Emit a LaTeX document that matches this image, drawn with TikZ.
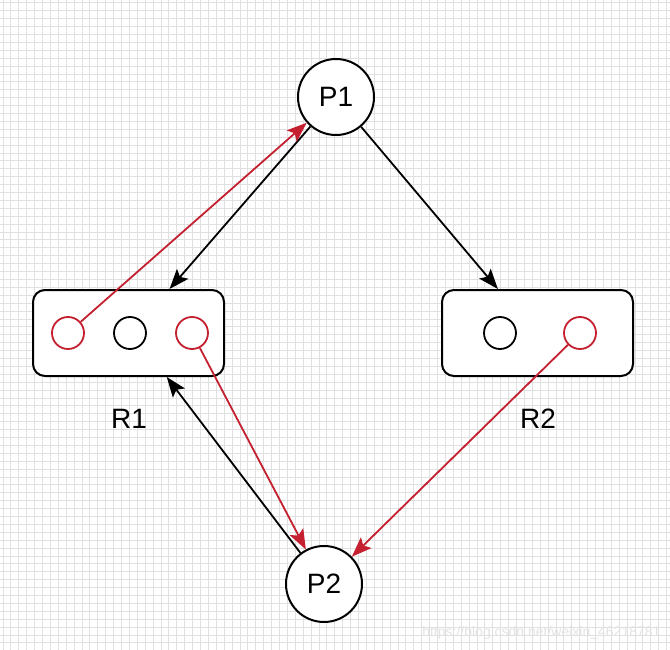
\documentclass[tikz,border=0pt]{standalone}
\usepackage{fontspec}
\setmainfont{Liberation Sans}
\usepackage{xcolor}
\usetikzlibrary{arrows.meta}
\definecolor{linkred}{RGB}{196,32,48}
\definecolor{gridgray}{RGB}{224,224,224}

\begin{document}
\begin{tikzpicture}[x=1pt, y=-1pt,
    proc/.style={draw, circle, line width=2pt, minimum size=76pt, inner sep=0pt, fill=white, font=\fontsize{28}{30}\selectfont},
    res/.style={draw, rectangle, rounded corners=12pt, line width=2pt, minimum width=191pt, minimum height=86pt, fill=white},
    inst/.style={draw, circle, line width=1.8pt, minimum size=32pt, inner sep=0pt, fill=white},
    lbl/.style={font=\fontsize{28}{30}\selectfont},
    edge/.style={-{Stealth[length=20pt, width=15pt, inset=4pt]}, line width=1.8pt}]
        \useasboundingbox (0,0) rectangle (670,650);
        \fill[white] (0,0) rectangle (670,650);

        % Grid
        \foreach \i in {0,...,84} {
            \draw[gridgray, line width=1pt] ({3+7.9*\i}, 0) -- ({3+7.9*\i}, 650);
            \draw[gridgray, line width=1pt] (0, {3+7.9*\i}) -- (670, {3+7.9*\i});
        }

        % Nodes
        \node[proc] (P1) at (336,97) {P1};
        \node[proc] (P2) at (324,584) {P2};
        \node[res] (R1) at (128.5,333) {};
        \node[res] (R2) at (537.5,333) {};
        \node[inst, draw=linkred] (r1a) at (68,333) {};
        \node[inst] (r1b) at (130,333) {};
        \node[inst, draw=linkred] (r1c) at (192,333) {};
        \node[inst] (r2a) at (500,333) {};
        \node[inst, draw=linkred] (r2b) at (580,333) {};
        \node[lbl] (l1) at (129,419) {R1};
        \node[lbl] (l2) at (538,419) {R2};
        \node[text=gray!22, font=\fontsize{14}{16}\selectfont, anchor=east] (wm) at (664,633) {https://blog.csdn.net/weixin\_46218781};

        % Arrows
        \draw[edge] (P1) -- (R1.47);
        \draw[edge] (P1) -- (R2.132);
        \draw[edge] (P2) -- (R1.-49);
        \draw[edge, linkred] (r1a) -- (P1);
        \draw[edge, linkred] (r1c) -- (P2);
        \draw[edge, linkred] (r2b) -- (P2);
    \end{tikzpicture}
\end{document}
